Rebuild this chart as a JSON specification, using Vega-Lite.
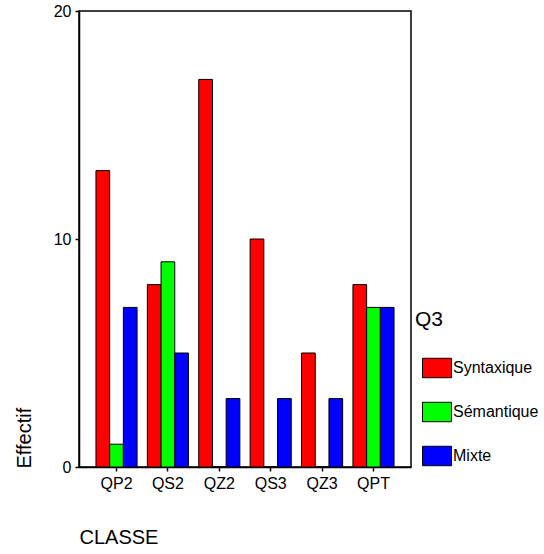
{
  "$schema": "https://vega.github.io/schema/vega-lite/v6.json",
  "width": 332,
  "height": 456,
  "autosize": {"type": "none"},
  "padding": {"left": 79, "top": 11, "right": 133, "bottom": 87},
  "background": "white",
  "config": {
    "font": "Liberation Sans",
    "view": {"stroke": "black", "strokeWidth": 1.5},
    "axis": {
      "domainColor": "black",
      "domainWidth": 1.5,
      "tickColor": "black",
      "tickWidth": 1.5,
      "tickSize": 4,
      "labelColor": "black",
      "labelFontSize": 16,
      "labelPadding": 4,
      "titleColor": "black",
      "titleFontSize": 20,
      "titleFontWeight": "normal",
      "grid": false
    }
  },
  "data": {
    "values": [
      {"CLASSE": "QP2", "Q3": "Syntaxique", "Effectif": 13},
      {"CLASSE": "QP2", "Q3": "Sémantique", "Effectif": 1},
      {"CLASSE": "QP2", "Q3": "Mixte", "Effectif": 7},
      {"CLASSE": "QS2", "Q3": "Syntaxique", "Effectif": 8},
      {"CLASSE": "QS2", "Q3": "Sémantique", "Effectif": 9},
      {"CLASSE": "QS2", "Q3": "Mixte", "Effectif": 5},
      {"CLASSE": "QZ2", "Q3": "Syntaxique", "Effectif": 17},
      {"CLASSE": "QZ2", "Q3": "Sémantique", "Effectif": 0},
      {"CLASSE": "QZ2", "Q3": "Mixte", "Effectif": 3},
      {"CLASSE": "QS3", "Q3": "Syntaxique", "Effectif": 10},
      {"CLASSE": "QS3", "Q3": "Sémantique", "Effectif": 0},
      {"CLASSE": "QS3", "Q3": "Mixte", "Effectif": 3},
      {"CLASSE": "QZ3", "Q3": "Syntaxique", "Effectif": 5},
      {"CLASSE": "QZ3", "Q3": "Sémantique", "Effectif": 0},
      {"CLASSE": "QZ3", "Q3": "Mixte", "Effectif": 3},
      {"CLASSE": "QPT", "Q3": "Syntaxique", "Effectif": 8},
      {"CLASSE": "QPT", "Q3": "Sémantique", "Effectif": 7},
      {"CLASSE": "QPT", "Q3": "Mixte", "Effectif": 7}
    ]
  },
  "mark": {"type": "bar", "stroke": "black", "strokeWidth": 1},
  "encoding": {
    "x": {
      "field": "CLASSE",
      "type": "nominal",
      "sort": ["QP2", "QS2", "QZ2", "QS3", "QZ3", "QPT"],
      "scale": {"paddingInner": 0.2, "paddingOuter": 0.33},
      "axis": {
        "labelAngle": 0,
        "title": "CLASSE",
        "titleAnchor": "start",
        "titleAlign": "left",
        "titleBaseline": "middle",
        "titleX": 0,
        "titleY": 70
      }
    },
    "y": {
      "field": "Effectif",
      "type": "quantitative",
      "scale": {"domain": [0, 20]},
      "axis": {
        "values": [0, 10, 20],
        "title": "Effectif",
        "titleAngle": -90,
        "titleAlign": "left",
        "titleBaseline": "middle",
        "titleX": -55,
        "titleY": 457
      }
    },
    "xOffset": {
      "field": "Q3",
      "type": "nominal",
      "sort": ["Syntaxique", "Sémantique", "Mixte"],
      "scale": {"paddingInner": 0, "paddingOuter": 0}
    },
    "color": {
      "field": "Q3",
      "type": "nominal",
      "sort": ["Syntaxique", "Sémantique", "Mixte"],
      "scale": {
        "domain": ["Syntaxique", "Sémantique", "Mixte"],
        "range": ["#ff0000", "#00ff00", "#0000ff"]
      },
      "legend": {
        "orient": "none",
        "legendX": 336,
        "legendY": 298,
        "padding": 0,
        "title": "Q3",
        "titleFontSize": 21,
        "titleFontWeight": "normal",
        "titleColor": "black",
        "titlePadding": 23,
        "symbolType": "M-1,-0.67L1,-0.67L1,0.67L-1,0.67Z",
        "symbolSize": 841,
        "symbolStrokeColor": "black",
        "symbolStrokeWidth": 1,
        "symbolOpacity": 1,
        "symbolOffset": 7,
        "labelFontSize": 16,
        "labelColor": "black",
        "labelOffset": 1,
        "rowPadding": 17
      }
    }
  }
}
